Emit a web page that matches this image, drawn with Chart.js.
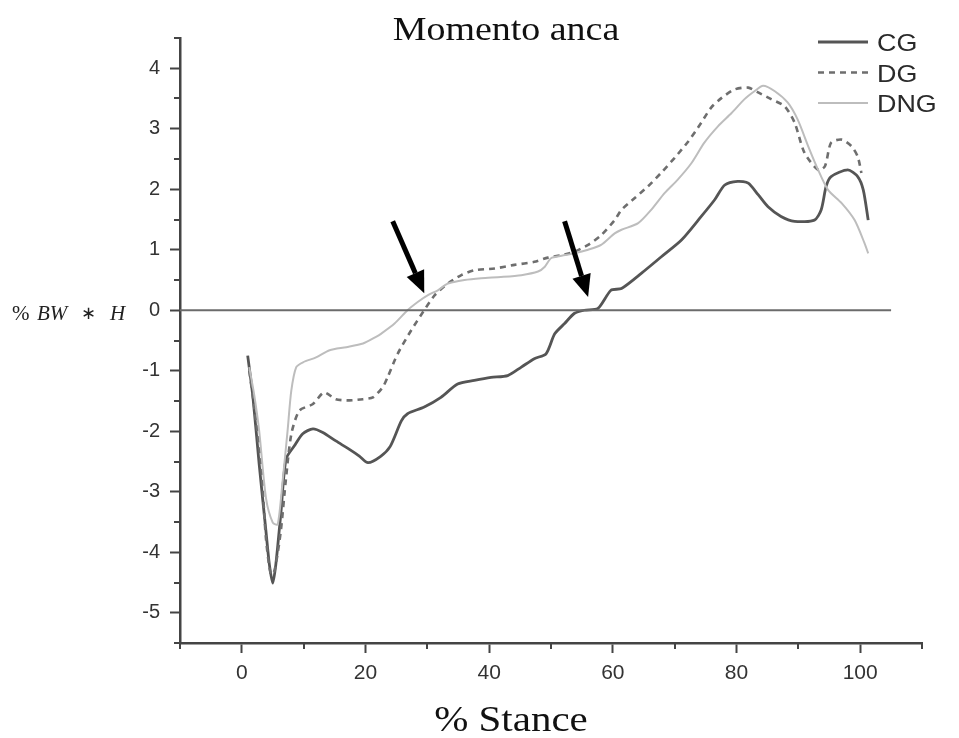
<!DOCTYPE html>
<html>
<head>
<meta charset="utf-8">
<title>Momento anca</title>
<script src="https://cdn.jsdelivr.net/npm/chart.js@4/dist/chart.umd.min.js"></script>
<style>
  html, body { margin: 0; padding: 0; background: #ffffff; }
  #wrap { width: 959px; height: 738px; position: relative; }
</style>
</head>
<body>
<div id="wrap"><canvas id="chart" width="959" height="738"></canvas></div>
<script>
// Hip moment (% BW * H) over the stance phase (%) for three groups
const cgStance  = [0.95, 1.8, 2.8, 3.9, 4.45, 5.0, 5.5, 6.3, 7.15, 8.5, 9.85, 11.5, 13.1, 15.2, 17.4, 19.0, 20.4, 22.4, 24.0, 25.8, 26.8, 29.5, 32.2, 34.9, 37.6, 40.3, 43.0, 45.2, 47.3, 49.2, 50.6, 52.2, 53.8, 55.4, 57.6, 59.7, 61.4, 64.6, 67.8, 71.1, 74.3, 76.5, 78.1, 80.2, 81.9, 83.5, 85.1, 87.2, 89.4, 92.6, 93.7, 94.5, 95.3, 98.0, 99.6, 100.5, 101.3];
const cgMoment  = [-0.75, -1.44, -2.54, -3.65, -4.2, -4.51, -4.2, -3.37, -2.46, -2.24, -2.04, -1.96, -2.02, -2.16, -2.30, -2.41, -2.52, -2.42, -2.25, -1.83, -1.71, -1.60, -1.44, -1.22, -1.16, -1.11, -1.08, -0.94, -0.80, -0.72, -0.39, -0.22, -0.05, 0.0, 0.03, 0.33, 0.36, 0.61, 0.88, 1.16, 1.55, 1.83, 2.07, 2.13, 2.10, 1.91, 1.71, 1.55, 1.47, 1.49, 1.66, 2.05, 2.21, 2.32, 2.21, 1.99, 1.49];

const dgStance  = [1.2, 2.0, 3.1, 3.9, 4.7, 5.3, 6.3, 7.1, 8.0, 9.3, 11.5, 13.3, 15.2, 17.4, 19.6, 21.2, 22.8, 23.6, 25.2, 27.4, 29.3, 31.2, 33.3, 35.5, 37.6, 40.9, 44.1, 47.3, 49.5, 51.7, 53.8, 56.0, 58.1, 60.3, 61.4, 63.5, 65.7, 67.8, 70.0, 72.2, 74.3, 75.9, 77.6, 79.7, 81.9, 83.5, 85.6, 87.8, 89.4, 91.0, 93.2, 94.3, 95.3, 97.0, 98.6, 99.6, 100.2];
const dgMoment  = [-1.0, -1.6, -2.54, -3.77, -4.37, -4.3, -3.65, -2.82, -2.05, -1.66, -1.55, -1.36, -1.47, -1.49, -1.47, -1.44, -1.27, -1.1, -0.72, -0.33, -0.03, 0.25, 0.44, 0.58, 0.66, 0.69, 0.75, 0.80, 0.87, 0.91, 0.97, 1.08, 1.24, 1.49, 1.66, 1.85, 2.05, 2.27, 2.52, 2.79, 3.10, 3.35, 3.51, 3.65, 3.68, 3.60, 3.49, 3.37, 3.10, 2.60, 2.32, 2.38, 2.77, 2.82, 2.71, 2.54, 2.27];

const dngStance = [1.2, 2.0, 2.8, 3.9, 5.0, 5.8, 6.6, 7.4, 8.0, 8.8, 9.9, 12.0, 14.2, 16.9, 19.6, 21.7, 22.5, 24.7, 26.8, 28.5, 30.1, 31.7, 33.3, 36.0, 38.7, 41.9, 45.2, 47.9, 49.0, 50.0, 51.7, 53.8, 56.0, 58.1, 60.3, 61.4, 64.1, 66.2, 68.4, 70.5, 72.7, 74.8, 77.0, 79.2, 81.3, 82.9, 84.3, 86.2, 88.3, 89.9, 91.6, 93.2, 94.8, 97.0, 99.1, 100.7, 101.3];
const dngMoment = [-0.94, -1.4, -1.99, -3.10, -3.51, -3.54, -2.82, -1.99, -1.33, -0.94, -0.86, -0.78, -0.66, -0.61, -0.55, -0.44, -0.39, -0.22, 0.0, 0.14, 0.25, 0.33, 0.44, 0.50, 0.53, 0.55, 0.58, 0.64, 0.72, 0.86, 0.90, 0.94, 1.0, 1.08, 1.27, 1.33, 1.44, 1.66, 1.94, 2.16, 2.43, 2.77, 3.04, 3.26, 3.49, 3.62, 3.71, 3.62, 3.43, 3.15, 2.71, 2.32, 1.99, 1.77, 1.49, 1.11, 0.94];

// Zero reference line across the plot
const zeroStance = [-10, 105];
const zeroMoment = [0, 0];

// Legend order, top to bottom
const legendOrder = ['CG', 'DG', 'DNG'];

// Axis ticks
const xMajorTicks = [0, 20, 40, 60, 80, 100];
const xMinorTicks = [-10, 10, 30, 50, 70, 90, 110];
const yMajorTicks = [-5, -4, -3, -2, -1, 0, 1, 2, 3, 4];
const yMinorTicks = [-5.5, -4.5, -3.5, -2.5, -1.5, -0.5, 0.5, 1.5, 2.5, 3.5, 4.5];

// Zero-crossing pointers: [stance, moment] of tail and tip
const pointerTails = [[24.4, 1.47], [52.2, 1.47]];
const pointerTips  = [[29.5, 0.28], [56.0, 0.22]];

const toPoints = (xs, ys) => xs.map((x, i) => ({ x: x, y: ys[i] }));

const SANS = "'Liberation Sans', Arial, sans-serif";
const SERIF = "'Liberation Serif', 'Times New Roman', serif";
const AXIS = '#444444';

// Text drawn with a slight horizontal stretch
function stretchedText(ctx, text, x, y, font, color, sx, align) {
  ctx.save();
  ctx.font = font;
  ctx.fillStyle = color;
  ctx.textBaseline = 'alphabetic';
  ctx.textAlign = align || 'center';
  ctx.translate(x, y);
  ctx.scale(sx, 1);
  ctx.fillText(text, 0, 0);
  ctx.restore();
}

const decorPlugin = {
  id: 'decor',
  afterDraw(chart) {
    const ctx = chart.ctx;
    const xs = chart.scales.x, ys = chart.scales.y;
    const area = chart.chartArea;

    // minor ticks
    ctx.save();
    ctx.strokeStyle = AXIS;
    ctx.lineWidth = 2;
    ctx.beginPath();
    xMinorTicks.forEach(v => {
      const px = Math.round(xs.getPixelForValue(v));
      ctx.moveTo(px, area.bottom);
      ctx.lineTo(px, area.bottom + 6);
    });
    yMinorTicks.forEach(v => {
      const py = Math.round(ys.getPixelForValue(v));
      ctx.moveTo(area.left - 6, py);
      ctx.lineTo(area.left, py);
    });
    ctx.stroke();
    ctx.restore();

    // title and axis titles
    stretchedText(ctx, 'Momento anca', 506, 40, '33px ' + SERIF, '#111', 1.15);
    stretchedText(ctx, '% Stance', 511, 731, '35px ' + SERIF, '#111', 1.17);

    ctx.save();
    ctx.fillStyle = '#222';
    ctx.textBaseline = 'alphabetic';
    ctx.textAlign = 'left';
    ctx.font = '21px ' + SERIF;
    ctx.fillText('%', 12, 320);
    ctx.font = 'italic 21px ' + SERIF;
    ctx.fillText('BW', 37, 320);
    ctx.font = '18px ' + SERIF;
    ctx.fillText('\u2217', 81, 319);
    ctx.font = 'italic 21px ' + SERIF;
    ctx.fillText('H', 110, 320);
    ctx.restore();

    // legend
    legendOrder.forEach((name, i) => {
      const d = chart.data.datasets.find(ds => ds.label === name);
      const y = 42 + i * 30.5;
      ctx.save();
      ctx.strokeStyle = d.borderColor;
      ctx.lineWidth = d.borderWidth;
      ctx.setLineDash(d.borderDash || []);
      ctx.beginPath();
      ctx.moveTo(818, y);
      ctx.lineTo(868, y);
      ctx.stroke();
      ctx.restore();
      stretchedText(ctx, d.label, 877, y + 9, '24px ' + SANS, '#2a2a2a', 1.12, 'left');
    });

    // pointers
    pointerTails.forEach((t, i) => {
      const x0 = xs.getPixelForValue(t[0]), y0 = ys.getPixelForValue(t[1]);
      const x1 = xs.getPixelForValue(pointerTips[i][0]), y1 = ys.getPixelForValue(pointerTips[i][1]);
      const ang = Math.atan2(y1 - y0, x1 - x0);
      const headLen = 22, headHalf = 9.5;
      const bx = x1 - headLen * Math.cos(ang), by = y1 - headLen * Math.sin(ang);
      ctx.save();
      ctx.strokeStyle = '#000';
      ctx.fillStyle = '#000';
      ctx.lineWidth = 5;
      ctx.beginPath();
      ctx.moveTo(x0, y0);
      ctx.lineTo(bx, by);
      ctx.stroke();
      ctx.beginPath();
      ctx.moveTo(x1, y1);
      ctx.lineTo(bx + headHalf * Math.sin(ang), by - headHalf * Math.cos(ang));
      ctx.lineTo(bx - headHalf * Math.sin(ang), by + headHalf * Math.cos(ang));
      ctx.closePath();
      ctx.fill();
      ctx.restore();
    });
  }
};

new Chart(document.getElementById('chart'), {
  type: 'line',
  data: {
    datasets: [
      {
        label: '',
        data: toPoints(zeroStance, zeroMoment),
        borderColor: '#6b6b6b',
        borderWidth: 2.2,
        pointRadius: 0
      },
      {
        label: 'DNG',
        data: toPoints(dngStance, dngMoment),
        borderColor: '#bdbdbd',
        borderWidth: 2,
        pointRadius: 0,
        tension: 0.25
      },
      {
        label: 'DG',
        data: toPoints(dgStance, dgMoment),
        borderColor: '#6e6e6e',
        borderWidth: 2.6,
        borderDash: [6, 5],
        pointRadius: 0,
        tension: 0.25
      },
      {
        label: 'CG',
        data: toPoints(cgStance, cgMoment),
        borderColor: '#555555',
        borderWidth: 2.8,
        pointRadius: 0,
        tension: 0.25
      }
    ]
  },
  options: {
    responsive: false,
    animation: false,
    layout: { padding: { left: 0, right: 37, top: 38, bottom: 0 } },
    plugins: {
      legend: { display: false },
      title: { display: false },
      tooltip: { enabled: false }
    },
    scales: {
      x: {
        type: 'linear',
        min: -10,
        max: 110,
        afterBuildTicks: s => { s.ticks = xMajorTicks.map(v => ({ value: v })); },
        afterFit: s => { s.height = 95; },
        grid: { drawOnChartArea: false, drawTicks: true, tickLength: 10, tickColor: AXIS, tickWidth: 2 },
        border: { display: true, color: AXIS, width: 2.5 },
        ticks: { font: { family: SANS, size: 21 }, color: '#333333', padding: 8, maxRotation: 0 }
      },
      y: {
        type: 'linear',
        min: -5.5,
        max: 4.5,
        afterBuildTicks: s => { s.ticks = yMajorTicks.map(v => ({ value: v })); },
        afterFit: s => { s.width = 180; },
        grid: { drawOnChartArea: false, drawTicks: true, tickLength: 10, tickColor: AXIS, tickWidth: 2 },
        border: { display: true, color: AXIS, width: 2.5 },
        ticks: { font: { family: SANS, size: 20 }, color: '#333333', padding: 10 }
      }
    }
  },
  plugins: [decorPlugin]
});
</script>
</body>
</html>
